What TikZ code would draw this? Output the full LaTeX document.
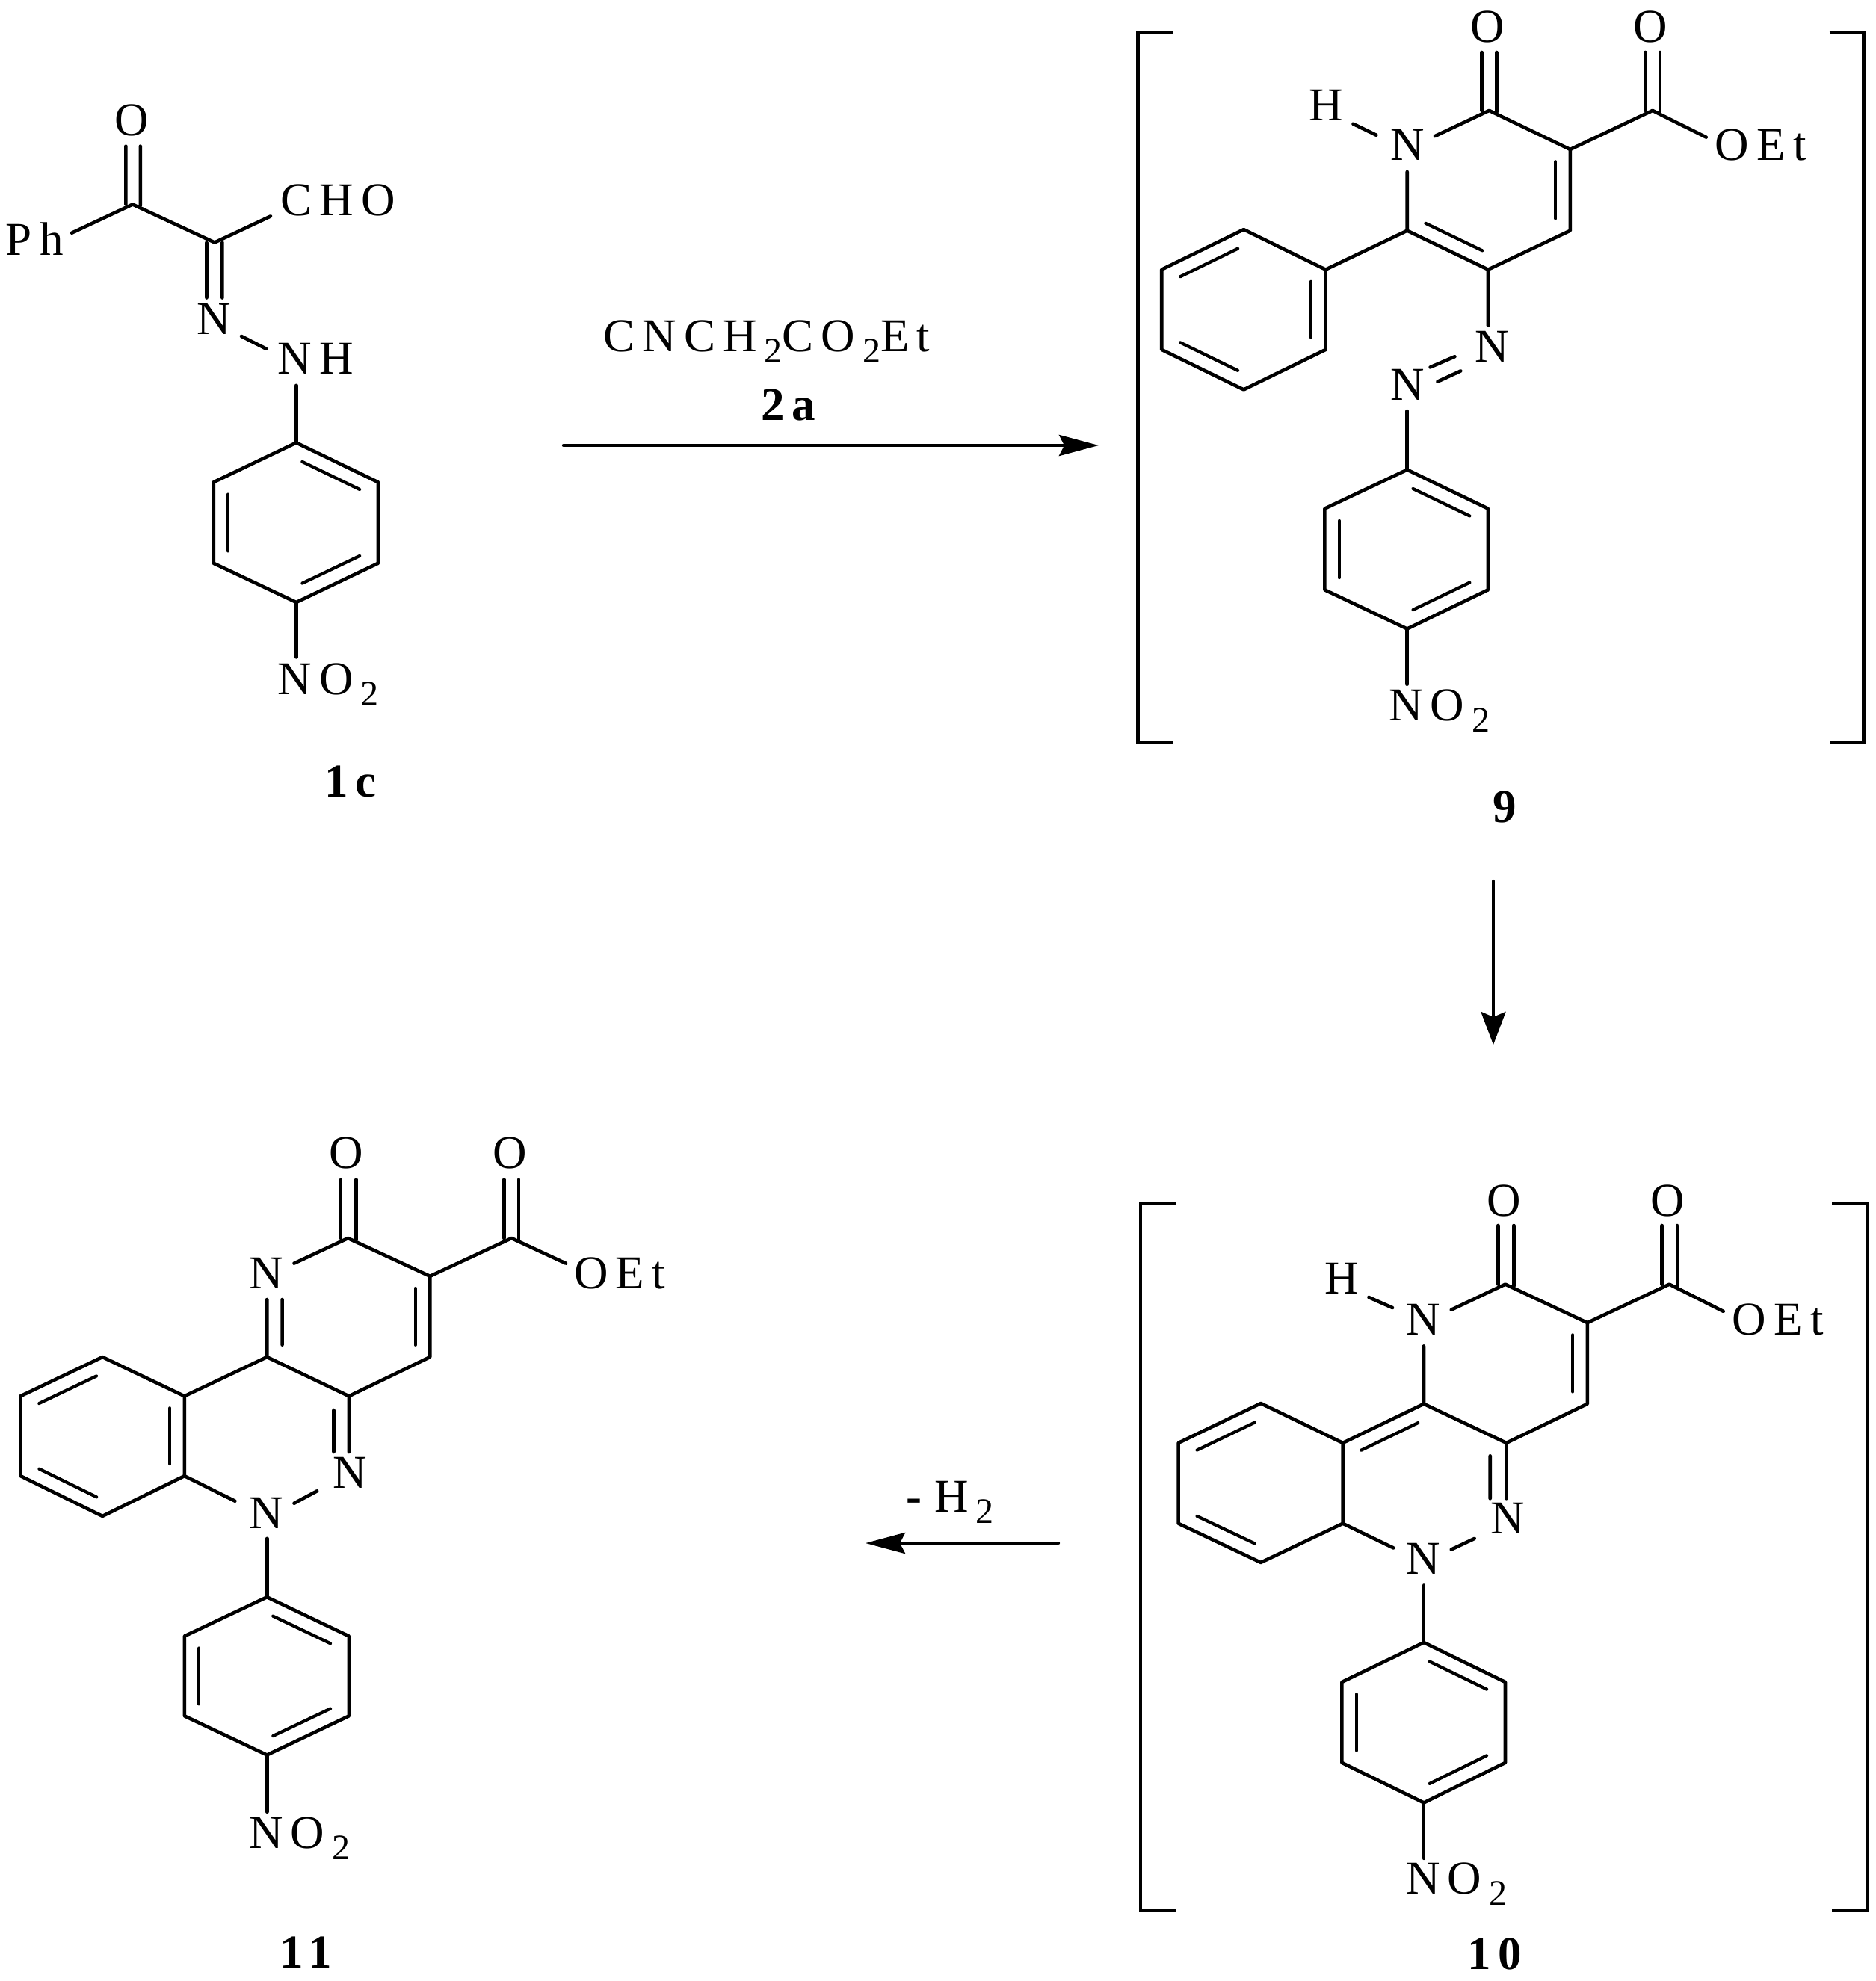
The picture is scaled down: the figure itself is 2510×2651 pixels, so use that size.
\documentclass[tikz,border=0pt]{standalone}
\usepackage{fontspec}
\setmainfont[LetterSpace=16]{Liberation Serif}
\usetikzlibrary{calc,arrows.meta}
\newcommand\subs[1]{\kern5pt\raisebox{-7.5pt}{\fontsize{24}{26}\selectfont #1}}
\newcommand\pts[3]{\coordinate (#1) at (#2,#3);}
\newcommand\inb[2]{\draw[innerline] ($($(#1)!.15!(#2)$)!9.75pt!90:(#2)$) -- ($($(#1)!.85!(#2)$)!9.75pt!-90:(#1)$);}
% para-substituted ring: prefix, x-left, x-centre, x-right, y-top, y-upper, y-lower, y-bottom
\newcommand\parar[8]{%
  \pts{#1t}{#3}{#5}\pts{#1ur}{#4}{#6}\pts{#1lr}{#4}{#7}\pts{#1b}{#3}{#8}\pts{#1ll}{#2}{#7}\pts{#1ul}{#2}{#6}%
  \draw[bondline] (#1t)--(#1ur)--(#1lr)--(#1b)--(#1ll)--(#1ul)--cycle;
  \inb{#1ur}{#1t}\inb{#1ul}{#1ll}\inb{#1b}{#1lr}}
\tikzset{
  bondline/.style={line width=2.3pt,line cap=round,line join=round},
  innerline/.style={line width=2.1pt,line cap=round},
  bracketline/.style={line width=2.2pt,line cap=butt,line join=miter},
  rxnarrow/.style={line width=2.2pt,line cap=round,-{Stealth[length=26.5pt,width=14pt,inset=3.5pt]}},
  rxnarrowv/.style={line width=2.2pt,line cap=round,-{Stealth[length=22pt,width=16.5pt,inset=3.5pt]}},
  atom/.style={anchor=base west,inner sep=0pt,font=\fontsize{31.5}{36}\selectfont},
  catom/.style={anchor=base,inner sep=0pt,font=\fontsize{31.5}{36}\selectfont},
  boldlabel/.style={anchor=base,inner sep=0pt,font=\fontsize{31.5}{36}\selectfont\bfseries}
}
\begin{document}
\begin{tikzpicture}[x=0.5pt,y=-0.5pt]
\useasboundingbox (0,0) rectangle (2510,2651);
% ---------- 1c ----------
\node[catom] (aO) at (176,181) {O};
\node[atom] (aPh) at (7.6,341) {Ph};
\node[atom] (aCHO) at (375,288) {CHO};
\node[atom] (aN) at (262.8,447.6) {N};
\node[atom] (aNH) at (371.4,500.5) {NH};
\node[atom] (aNO) at (371.4,929) {NO\subs{2}};
\node[boldlabel] (alab) at (469,1066) {1c};
\pts{aC1}{177.5}{273.5}\pts{aC2}{287.2}{324.5}
\pts{aPhe}{96}{311.7}\pts{aCHOe}{362}{289.4}
\pts{aO1}{168.4}{195.7}\pts{aO1b}{168.4}{273.5}\pts{aO2}{187.8}{195.7}\pts{aO2b}{187.8}{275}
\pts{aN1}{276.5}{324.5}\pts{aN1e}{276.5}{398.5}\pts{aN2}{297.4}{324.5}\pts{aN2e}{297.4}{398.5}
\pts{aNa}{323}{450}\pts{aNb}{356}{466.7}\pts{aNc}{396.4}{515.8}\pts{aNOe}{396.4}{879.4}
\parar{ar}{285.7}{396.4}{506}{592.4}{645.3}{753.7}{806}
\draw[bondline] (aPhe)--(aC1)--(aC2)--(aCHOe);
\draw[bondline] (aO1)--(aO1b) (aO2)--(aO2b) (aN1)--(aN1e) (aN2)--(aN2e) (aNa)--(aNb);
\draw[bondline] (aNc)--(art) (arb)--(aNOe);
% ---------- arrow 1 ----------
\node[atom] (rgt) at (807,470) {CNCH\subs{2}CO\subs{2}Et};
\node[boldlabel] (rgl) at (1055,562) {2a};
\pts{ar1s}{754}{596}\pts{ar1e}{1470}{596}
\draw[rxnarrow] (ar1s)--(ar1e);
% ---------- 9 ----------
\pts{bL1}{1570}{44}\pts{bL2}{1522.5}{44}\pts{bL3}{1522.5}{993}\pts{bL4}{1570}{993}
\pts{bR1}{2447.6}{44}\pts{bR2}{2493.6}{44}\pts{bR3}{2493.6}{993}\pts{bR4}{2447.6}{993}
\draw[bracketline] (bL1)--(bL2)--(bL3)--(bL4);
\draw[bracketline] (bR1)--(bR2)--(bR3)--(bR4);
\node[catom] (bO1) at (1990.4,56) {O};
\node[catom] (bO2) at (2207.9,56) {O};
\node[atom] (bN1) at (1859.7,214.3) {N};
\node[atom] (bH) at (1750.6,161.4) {H};
\node[atom] (bOEt) at (2294.5,214.3) {OEt};
\node[atom] (bNa) at (1972.7,484.3) {N};
\node[atom] (bNb) at (1859.7,535.7) {N};
\node[atom] (bNO) at (1857.7,964.3) {NO\subs{2}};
\node[boldlabel] (blab) at (2013.4,1100) {9};
\pts{bC1}{1992.4}{147.9}\pts{bC2}{2211}{147.9}\pts{bC3}{2100.8}{200}\pts{bC4}{2100.8}{308.6}\pts{bC5}{1991}{360.7}\pts{bC6}{1882.7}{308.6}
\pts{bNr}{1920}{182.1}\pts{bNd}{1882.7}{230}\pts{bHe}{1810.4}{165.7}\pts{bHn}{1841.3}{180.7}\pts{bOe}{2282.7}{183.6}
\pts{bO1a}{1982.5}{70}\pts{bO1b}{1982.5}{147.9}\pts{bO1c}{2002.2}{70}\pts{bO1d}{2002.2}{150}
\pts{bO2a}{2201.3}{70}\pts{bO2b}{2201.3}{147.9}\pts{bO2c}{2221}{70}\pts{bO2d}{2221}{150}
\draw[bondline] (bNr)--(bC1)--(bC3)--(bC4)--(bC5)--(bC6)--(bNd);
\draw[bondline] (bC3)--(bC2)--(bOe) (bHe)--(bHn);
\draw[bondline] (bO1a)--(bO1b) (bO1c)--(bO1d) (bO2a)--(bO2b) (bO2c)--(bO2d);
\inb{bC4}{bC3}\inb{bC6}{bC5}
% phenyl
\pts{bPa}{1773.6}{360.7}\pts{bPb}{1664}{307.1}\pts{bPc}{1554.2}{360.7}\pts{bPd}{1554.2}{467.9}\pts{bPe}{1664}{521.4}\pts{bPf}{1773.6}{467.9}
\draw[bondline] (bPa)--(bPb)--(bPc)--(bPd)--(bPe)--(bPf)--cycle (bC6)--(bPa);
\inb{bPb}{bPc}\inb{bPd}{bPe}\inb{bPf}{bPa}
% azo
\pts{bAa}{1991}{435.7}\pts{bAb}{1913.6}{491.4}\pts{bAc}{1946.4}{477.2}\pts{bAd}{1923.4}{510.7}\pts{bAe}{1954.3}{496.4}\pts{bAf}{1882.7}{550}\pts{bNOe}{1882.7}{915.7}
\draw[bondline] (bC5)--(bAa) (bAb)--(bAc) (bAd)--(bAe);
\parar{br}{1772.3}{1882.7}{1991}{628.6}{680.7}{789.3}{841.5}
\draw[bondline] (bAf)--(brt) (brb)--(bNOe);
% ---------- arrow 2 ----------
\pts{ar2s}{1998}{1179}\pts{ar2e}{1998}{1398}
\draw[rxnarrowv] (ar2s)--(ar2e);
% ---------- 10 ----------
\pts{cL1}{1573.3}{1610}\pts{cL2}{1526}{1610}\pts{cL3}{1526}{2557}\pts{cL4}{1573.3}{2557}
\pts{cR1}{2450.9}{1610}\pts{cR2}{2498.2}{1610}\pts{cR3}{2498.2}{2557}\pts{cR4}{2450.9}{2557}
\draw[bracketline] (cL1)--(cL2)--(cL3)--(cL4);
\draw[bracketline] (cR1)--(cR2)--(cR3)--(cR4);
\node[catom] (cO1) at (2012,1627.5) {O};
\node[catom] (cO2) at (2230.8,1627.5) {O};
\node[atom] (cN1) at (1880.7,1786.1) {N};
\node[atom] (cH) at (1772.3,1731.9) {H};
\node[atom] (cOEt) at (2317.5,1786.1) {OEt};
\node[atom] (cNa) at (1993.7,2052.6) {N};
\node[atom] (cNb) at (1880.7,2106.2) {N};
\node[atom] (cNO) at (1880.7,2534.1) {NO\subs{2}};
\node[boldlabel] (clab) at (1999.6,2635) {10};
\pts{cC1}{2014}{1718.6}\pts{cC2}{2233.5}{1718.6}\pts{cC3}{2123.8}{1770.1}\pts{cC4}{2123.8}{1878.7}\pts{cC5}{2015.4}{1930.9}\pts{cC6}{1905}{1878.7}\pts{cC7}{1796.6}{1930.9}
\pts{cNr}{1941.8}{1752.7}\pts{cNd}{1905}{1801.4}\pts{cHe}{1831.4}{1736}\pts{cHn}{1863}{1750}\pts{cOe}{2305.7}{1754.8}
\pts{cO1a}{2004.2}{1640}\pts{cO1b}{2004.2}{1718.6}\pts{cO1c}{2025.2}{1640}\pts{cO1d}{2025.2}{1721}
\pts{cO2a}{2223.6}{1640}\pts{cO2b}{2223.6}{1718.6}\pts{cO2c}{2244}{1640}\pts{cO2d}{2244}{1721}
\draw[bondline] (cNr)--(cC1)--(cC3)--(cC4)--(cC5)--(cC6)--(cNd);
\draw[bondline] (cC3)--(cC2)--(cOe) (cHe)--(cHn);
\draw[bondline] (cO1a)--(cO1b) (cO1c)--(cO1d) (cO2a)--(cO2b) (cO2c)--(cO2d);
\inb{cC4}{cC3}\inb{cC6}{cC7}
\pts{cPb}{1686.9}{1878}\pts{cPc}{1576.6}{1930.9}\pts{cPd}{1576.6}{2038.7}\pts{cPe}{1686.9}{2090.9}\pts{cPf}{1796.6}{2038.7}
\draw[bondline] (cC6)--(cC7) (cC7)--(cPb)--(cPc)--(cPd)--(cPe)--(cPf)--cycle;
\inb{cPb}{cPc}\inb{cPd}{cPe}
\pts{cNe}{1864.3}{2071.4}\pts{cDa}{2015.4}{2005.3}\pts{cDb}{1993.7}{1948.3}\pts{cDc}{1993.7}{2005.3}
\pts{cNNa}{1941.8}{2073.5}\pts{cNNb}{1972.7}{2058.9}\pts{cNf}{1905}{2121.5}\pts{cNOe}{1905}{2486.8}
\draw[bondline] (cPf)--(cNe) (cC5)--(cDa) (cDb)--(cDc) (cNNa)--(cNNb);
\parar{cr}{1795.3}{1905}{2014}{2198}{2251}{2358.8}{2412.4}
\draw[bondline] (cNf)--(crt) (crb)--(cNOe);
% ---------- arrow 3 ----------
\node[atom] (elim) at (1212,2023) {\textbf{-}\kern3.5pt H\subs{2}};
\pts{ar3s}{1416}{2065}\pts{ar3e}{1158}{2065}
\draw[rxnarrow] (ar3s)--(ar3e);
% ---------- 11 ----------
\node[catom] (dO1) at (463.7,1563.6) {O};
\node[catom] (dO2) at (682.4,1563.6) {O};
\node[atom] (dN1) at (333,1724.2) {N};
\node[atom] (dOEt) at (767.8,1724.2) {OEt};
\node[atom] (dNa) at (445.2,1991.6) {N};
\node[atom] (dNb) at (333,2045.3) {N};
\node[atom] (dNO) at (333,2473.2) {NO\subs{2}};
\node[boldlabel] (dlab) at (408.8,2633.8) {11};
\pts{dC1}{465.6}{1657}\pts{dC2}{684.4}{1657}\pts{dC3}{575.3}{1707.8}\pts{dC4}{575.3}{1816}\pts{dC5}{466.9}{1868.3}\pts{dC6}{357.2}{1816}\pts{dC7}{246.8}{1868.3}
\pts{dNr}{393.5}{1690.6}\pts{dOe}{757}{1690.6}
\pts{dO1a}{456}{1578.6}\pts{dO1b}{456}{1657}\pts{dO1c}{476.4}{1578.6}\pts{dO1d}{476.4}{1659}
\pts{dO2a}{674.2}{1578.6}\pts{dO2b}{674.2}{1657}\pts{dO2c}{693.9}{1578.6}\pts{dO2d}{693.9}{1659}
\pts{dDa}{357.2}{1739}\pts{dDb}{377.6}{1739}\pts{dDc}{377.6}{1799.6}
\draw[bondline] (dNr)--(dC1)--(dC3)--(dC4)--(dC5)--(dC6)--(dDa) (dDb)--(dDc);
\draw[bondline] (dC3)--(dC2)--(dOe);
\draw[bondline] (dO1a)--(dO1b) (dO1c)--(dO1d) (dO2a)--(dO2b) (dO2c)--(dO2d);
\inb{dC4}{dC3}
\pts{dPb}{137.1}{1816}\pts{dPc}{27.4}{1868.3}\pts{dPd}{27.4}{1975.1}\pts{dPe}{137.1}{2028.9}\pts{dPf}{246.8}{1975.1}
\draw[bondline] (dC6)--(dC7) (dC7)--(dPb)--(dPc)--(dPd)--(dPe)--(dPf)--cycle;
\inb{dPb}{dPc}\inb{dPd}{dPe}\inb{dPf}{dC7}
\pts{dNe}{314.4}{2008.7}\pts{dEa}{466.9}{1943}\pts{dEb}{446.5}{1887}\pts{dEc}{446.5}{1943}
\pts{dNNa}{393.5}{2011.7}\pts{dNNb}{424.1}{1995.3}\pts{dNf}{357.2}{2058.8}\pts{dNOe}{357.2}{2424.7}
\draw[bondline] (dPf)--(dNe) (dC5)--(dEa) (dEb)--(dEc) (dNNa)--(dNNb);
\parar{dr}{246.8}{357.2}{466.9}{2137.2}{2189.5}{2296.3}{2348.5}
\draw[bondline] (dNf)--(drt) (drb)--(dNOe);
\end{tikzpicture}
\end{document}
